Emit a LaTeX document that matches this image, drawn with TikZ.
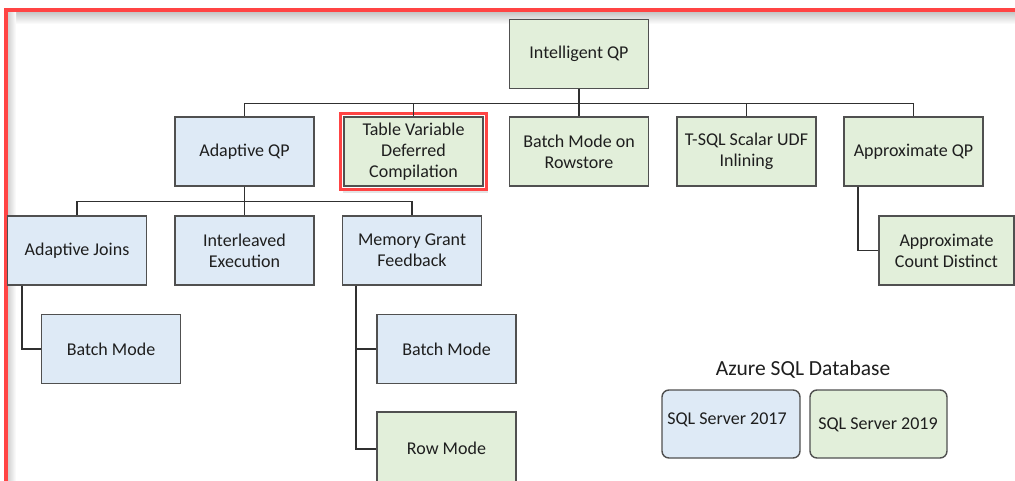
\documentclass[tikz,border=0pt]{standalone}
\usepackage{fontspec}
\setmainfont{Carlito}
\definecolor{boxblue}{HTML}{DEEAF6}
\definecolor{boxgreen}{HTML}{E2EFDA}
\definecolor{frame}{HTML}{FF4444}
\definecolor{edge}{HTML}{505050}
\definecolor{wire}{HTML}{303030}
\definecolor{txt}{HTML}{1E1E1E}
\begin{document}
\begin{tikzpicture}[x=1pt,y=-1pt,
  base/.style={draw=edge,line width=1.4pt,minimum width=139pt,minimum height=69pt,inner sep=0pt,
    align=center,text=txt,font=\fontsize{18}{21}\selectfont},
  bbox/.style={base,fill=boxblue},
  gbox/.style={base,fill=boxgreen},
  link/.style={draw=wire,line width=1.3pt}]
\useasboundingbox (0,0) rectangle (1015,480);
\begin{scope}
\clip (0,0) rectangle (1015,480);
\fill[white] (0,0) rectangle (1015,480);
% shadow inside frame
\shade[top color=gray!45,bottom color=white] (7,12) rectangle (1015,24);
\shade[left color=gray!40,right color=white] (7,12) rectangle (16,480);
\draw[frame,line width=4pt] (5.5,10) rectangle (1030,500);
\end{scope}

% nodes
\node[gbox] (iqp) at (579,54) {Intelligent QP};
\node[bbox] (aqp) at (244.5,151.5) {Adaptive QP};
\node[gbox] (tvd) at (413.5,151.5) {Table Variable\\Deferred\\Compilation};
\node[gbox] (bmr) at (579,151.5) {Batch Mode on\\Rowstore};
\node[gbox] (tsql) at (746.5,151.5) {T-SQL Scalar UDF\\Inlining};
\node[gbox] (apq) at (913.5,151.5) {Approximate QP};
\node[bbox] (aj) at (77,250.5) {Adaptive Joins};
\node[bbox] (ie) at (244.5,250.5) {Interleaved\\Execution};
\node[bbox] (mgf) at (412,250.5) {Memory Grant\\Feedback};
\node[bbox] (bm1) at (111,349) {Batch Mode};
\node[bbox] (bm2) at (446.5,349) {Batch Mode};
\node[gbox,minimum height=72pt] (rm) at (446.5,448) {Row Mode};
\node[gbox,minimum width=135pt] (acd) at (946.5,250.5) {Approximate\\Count Distinct};

% highlight of tvd
\fill[gray!35,opacity=0.6] ([xshift=-0.5pt,yshift=-4pt]tvd.south west) rectangle ([xshift=4.5pt,yshift=-6pt]tvd.south east);
\draw[frame,line width=3pt] ([xshift=-3pt,yshift=3pt]tvd.north west) rectangle ([xshift=3pt,yshift=-3pt]tvd.south east);

% legend
\node[text=txt,font=\fontsize{21.5}{24}\selectfont] (az) at (803,369) {Azure SQL Database};
\node[base,fill=boxblue,rounded corners=7pt,minimum width=138pt,minimum height=68pt] (s17) at (731,424) {};
\node[text=txt,font=\fontsize{18}{21}\selectfont] (s17t) at (727,420) {SQL Server 2017};
\node[base,fill=boxgreen,rounded corners=7pt,minimum width=137pt,minimum height=68pt] (s19) at (878.5,424) {};
\node[text=txt,font=\fontsize{18}{21}\selectfont] (s19t) at (878,425) {SQL Server 2019};

% connectors
\foreach \c in {aqp,tvd,bmr,tsql,apq}
  \draw[link] (iqp.south) -- ++(0,14) -| (\c.north);
\foreach \c in {aj,ie,mgf}
  \draw[link] (aqp.south) -- ++(0,15) -| (\c.north);
\draw[link] ([xshift=-55pt]aj.south) |- (bm1.west);
\draw[link] ([xshift=-56pt]mgf.south) |- (bm2.west);
\draw[link] ([xshift=-56pt]mgf.south) |- ([yshift=-1pt]rm.west);
\draw[link] ([xshift=-55.5pt]apq.south) |- (acd.west);
\end{tikzpicture}
\end{document}
